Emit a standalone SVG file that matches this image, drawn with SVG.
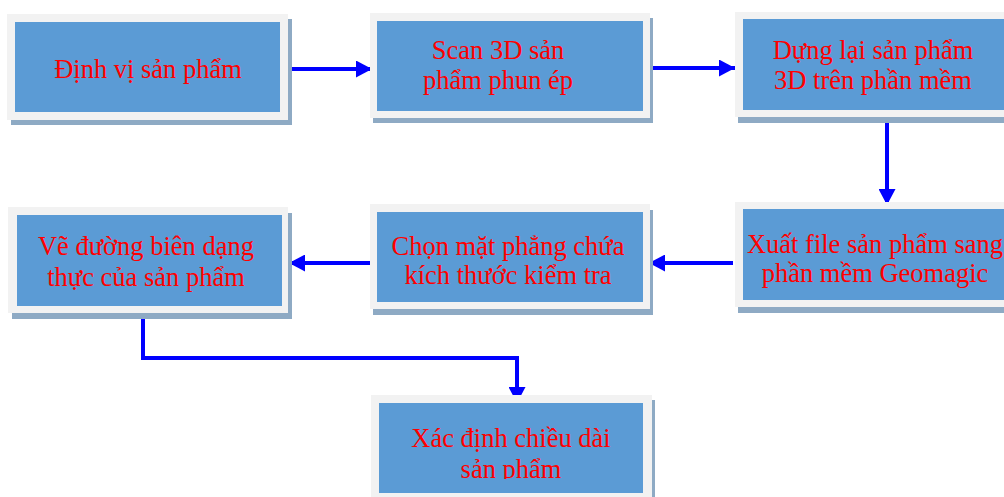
<svg xmlns="http://www.w3.org/2000/svg" width="1004" height="497" viewBox="0 0 1004 497">
  <style>
    .shadow { fill: #8eaac4; }
    .frame { fill: #f2f2f2; }
    .face { fill: #5b9bd5; }
    .label { font-family: "Liberation Serif", "Times New Roman", serif; font-size: 26.5px; fill: #ff0000; text-anchor: middle; }
    .link { fill: none; stroke: #0000ff; stroke-width: 4; marker-end: url(#head); }
  </style>
  <defs>
    <marker id="head" markerUnits="userSpaceOnUse" markerWidth="17" markerHeight="17" refX="16" refY="8.5" orient="auto">
      <path d="M0,0 L16,8.5 L0,17 Z" fill="#0000ff"/>
    </marker>
    <clipPath id="clip-last">
      <rect x="379" y="403" width="264" height="76"/>
    </clipPath>
  </defs>

  <rect width="1004" height="497" fill="#ffffff"/>

  <g id="connectors">
    <path class="link" d="M289,69 H372"/>
    <path class="link" d="M653,68 H735"/>
    <path class="link" d="M887,123 V205"/>
    <path class="link" d="M733,263 H649"/>
    <path class="link" d="M370,263 H289"/>
    <path class="link" d="M143,317 V358 H517 V403"/>
  </g>

  <g id="node-dinh-vi">
    <rect class="shadow" x="11" y="19" width="281" height="106"/>
    <rect class="frame" x="7" y="14" width="281" height="106"/>
    <rect class="face" x="15" y="22" width="265" height="90"/>
    <text class="label" x="148" y="78">Định vị sản phẩm</text>
  </g>

  <g id="node-scan">
    <rect class="shadow" x="373" y="18" width="280" height="105"/>
    <rect class="frame" x="370" y="13" width="280" height="105"/>
    <rect class="face" x="377" y="21" width="266" height="90"/>
    <text class="label" x="498" y="59">Scan 3D sản</text>
    <text class="label" x="498" y="89">phẩm phun ép</text>
  </g>

  <g id="node-dung-lai">
    <rect class="shadow" x="738" y="17" width="280" height="106"/>
    <rect class="frame" x="735" y="12" width="280" height="105"/>
    <rect class="face" x="743" y="19" width="266" height="91"/>
    <text class="label" x="873" y="59">Dựng lại sản phẩm</text>
    <text class="label" x="873" y="89">3D trên phần mềm</text>
  </g>

  <g id="node-xuat-file">
    <rect class="shadow" x="738" y="207" width="280" height="106"/>
    <rect class="frame" x="735" y="202" width="280" height="105"/>
    <rect class="face" x="743" y="209" width="266" height="91"/>
    <text class="label" x="875" y="253">Xuất file sản phẩm sang</text>
    <text class="label" x="875" y="282">phần mềm Geomagic</text>
  </g>

  <g id="node-chon-mat">
    <rect class="shadow" x="373" y="210" width="280" height="105"/>
    <rect class="frame" x="370" y="204" width="280" height="105"/>
    <rect class="face" x="377" y="212" width="266" height="90"/>
    <text class="label" x="508" y="255">Chọn mặt phẳng chứa</text>
    <text class="label" x="508" y="284">kích thước kiểm tra</text>
  </g>

  <g id="node-ve-duong">
    <rect class="shadow" x="12" y="213" width="280" height="106"/>
    <rect class="frame" x="8" y="207" width="280" height="106"/>
    <rect class="face" x="17" y="215" width="265" height="91"/>
    <text class="label" x="146" y="255">Vẽ đường biên dạng</text>
    <text class="label" x="146" y="286">thực của sản phẩm</text>
  </g>

  <g id="node-xac-dinh">
    <rect class="shadow" x="374" y="400" width="281" height="105"/>
    <rect class="frame" x="371" y="395" width="281" height="105"/>
    <rect class="face" x="379" y="403" width="264" height="90"/>
    <text class="label" x="511" y="447">Xác định chiều dài</text>
    <text class="label" x="511" y="478" clip-path="url(#clip-last)">sản phẩm</text>
  </g>
</svg>
